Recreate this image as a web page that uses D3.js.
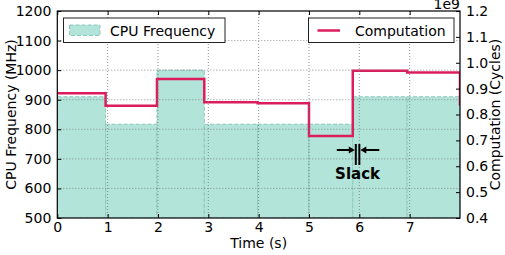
<!DOCTYPE html>
<html>
<head>
<meta charset="utf-8">
<script src="https://cdn.jsdelivr.net/npm/d3@7"></script>
<style>
  body { margin: 0; background: #fff; }
  svg text { font-family: "DejaVu Sans", sans-serif; fill: #000; }
</style>
</head>
<body>
<svg width="505" height="255"></svg>
<script>
const width = 505, height = 255;
const svg = d3.select("svg");

// Intervals (s) with CPU frequency (MHz) and computation (1e9 cycles)
const segStart = [0, 0.96, 1.98, 2.92, 3.98, 5.0, 5.87, 6.95];
const segEnd   = [0.96, 1.98, 2.92, 3.98, 5.0, 5.87, 6.95, 8.0];
const freqMHz  = [910, 817, 1000, 817, 817, 817, 910, 910];
const cycles   = [0.882, 0.834, 0.937, 0.847, 0.843, 0.717, 0.969, 0.962, 0.84];

const xTicks = [0, 1, 2, 3, 4, 5, 6, 7];
const yLeftTicks = [500, 600, 700, 800, 900, 1000, 1100, 1200];
const yRightTicks = [0.4, 0.5, 0.6, 0.7, 0.8, 0.9, 1.0, 1.1, 1.2];
const slack = [5.93, 6.0];

const pLeft = 57.3, pRight = 460, pTop = 11, pBottom = 218;
const x = d3.scaleLinear().domain([0, 8]).range([pLeft, pRight]);
const yL = d3.scaleLinear().domain([500, 1200]).range([pBottom, pTop]);
const yR = d3.scaleLinear().domain([0.4, 1.2]).range([pBottom, pTop]);

const red = "#dc1d5c", teal = "#b3e4d9", tealEdge = "#8cc6ba";

svg.append("clipPath").attr("id", "clip")
  .append("rect").attr("x", pLeft).attr("y", pTop).attr("width", pRight - pLeft).attr("height", pBottom - pTop);

const plot = svg.append("g").attr("clip-path", "url(#clip)");

// frequency bars
const bars = segStart.map((s, i) => ({ s, e: segEnd[i], f: freqMHz[i] }));
plot.selectAll("rect.bar").data(bars).enter().append("rect")
  .attr("class", "bar")
  .attr("x", d => x(d.s)).attr("width", d => x(d.e) - x(d.s))
  .attr("y", d => yL(d.f)).attr("height", d => pBottom - yL(d.f))
  .attr("fill", teal)
  .attr("stroke", tealEdge).attr("stroke-width", 1).attr("stroke-dasharray", "4,2");

// grid (dotted)
const grid = svg.append("g");
grid.selectAll("line.gx").data(xTicks.slice(1)).enter().append("line")
  .attr("x1", d => x(d)).attr("x2", d => x(d)).attr("y1", pTop).attr("y2", pBottom)
  .attr("stroke", "#777").attr("stroke-width", 0.8).attr("stroke-dasharray", "1,2");
grid.selectAll("line.gy").data(yLeftTicks.slice(1, -1)).enter().append("line")
  .attr("y1", d => yL(d)).attr("y2", d => yL(d)).attr("x1", pLeft).attr("x2", pRight)
  .attr("stroke", "#777").attr("stroke-width", 0.8).attr("stroke-dasharray", "1,2");

// computation step line
const stepPts = [];
cycles.forEach((c, i) => {
  const s = i < segStart.length ? segStart[i] : 8;
  const e = i < segEnd.length ? segEnd[i] : 8.3;
  stepPts.push([s, c], [e, c]);
});
plot.append("path")
  .attr("d", d3.line().x(d => x(d[0])).y(d => yR(d[1]))(stepPts))
  .attr("fill", "none").attr("stroke", red).attr("stroke-width", 2.5);

// axes (ticks inward)
const fs = "14px";
const ax = svg.append("g");
ax.append("g").attr("transform", `translate(0,${pBottom})`)
  .call(d3.axisBottom(x).tickValues(xTicks).tickSize(-4).tickPadding(4).tickFormat(d3.format("d")))
  .call(g => g.select(".domain").remove());
ax.append("g").attr("transform", `translate(0,${pTop})`)
  .call(d3.axisTop(x).tickValues(xTicks).tickSize(-4).tickFormat(""))
  .call(g => g.select(".domain").remove());
ax.append("g").attr("transform", `translate(${pLeft},0)`)
  .call(d3.axisLeft(yL).tickValues(yLeftTicks).tickSize(-4).tickPadding(6).tickFormat(d3.format("d")))
  .call(g => g.select(".domain").remove());
ax.append("g").attr("transform", `translate(${pRight},0)`)
  .call(d3.axisRight(yR).tickValues(yRightTicks).tickSize(-4).tickPadding(6).tickFormat(d3.format(".1f")))
  .call(g => g.select(".domain").remove());
ax.selectAll(".tick text").attr("font-size", fs).attr("font-family", "DejaVu Sans");
ax.selectAll(".tick line").attr("stroke", "#000");

svg.append("rect").attr("x", pLeft).attr("y", pTop).attr("width", pRight - pLeft).attr("height", pBottom - pTop)
  .attr("fill", "none").attr("stroke", "#000").attr("stroke-width", 1.2);

// offset text
svg.append("text").attr("x", pRight).attr("y", 9).attr("text-anchor", "end")
  .attr("font-size", fs).text("1e9");

// axis labels
svg.append("text").attr("x", (pLeft + pRight) / 2).attr("y", 248).attr("text-anchor", "middle")
  .attr("font-size", fs).text("Time (s)");
svg.append("text").attr("transform", `translate(16,${(pTop + pBottom) / 2}) rotate(-90)`)
  .attr("text-anchor", "middle").attr("font-size", fs).text("CPU Frequency (MHz)");
svg.append("text").attr("transform", `translate(500,${(pTop + pBottom) / 2}) rotate(-90)`)
  .attr("text-anchor", "middle").attr("font-size", fs).text("Computation (Cycles)");

// legends
const lg1 = svg.append("g");
lg1.append("rect").attr("x", 63.5).attr("y", 18).attr("width", 161.5).attr("height", 24.5)
  .attr("fill", "#fff").attr("stroke", "#222").attr("stroke-width", 1);
lg1.append("rect").attr("x", 69.5).attr("y", 25).attr("width", 30.5).attr("height", 10.5)
  .attr("fill", teal).attr("stroke", tealEdge).attr("stroke-dasharray", "4,2");
lg1.append("text").attr("x", 110).attr("y", 35.5).attr("font-size", fs).text("CPU Frequency");

const lg2 = svg.append("g");
lg2.append("rect").attr("x", 308.5).attr("y", 18).attr("width", 145.5).attr("height", 24.5)
  .attr("fill", "#fff").attr("stroke", "#222").attr("stroke-width", 1);
lg2.append("line").attr("x1", 317.5).attr("x2", 340).attr("y1", 30.5).attr("y2", 30.5)
  .attr("stroke", red).attr("stroke-width", 2.5);
lg2.append("text").attr("x", 355).attr("y", 35.5).attr("font-size", fs).text("Computation");

// slack annotation
const sa = svg.append("g").attr("stroke", "#000").attr("stroke-width", 2);
const sy = 150, sx0 = x(slack[0]), sx1 = x(slack[1]);
sa.append("line").attr("x1", sx0).attr("x2", sx0).attr("y1", 144).attr("y2", 165);
sa.append("line").attr("x1", sx1).attr("x2", sx1).attr("y1", 144).attr("y2", 165);
sa.append("line").attr("x1", sx0 - 19).attr("x2", sx0 - 5).attr("y1", sy).attr("y2", sy);
sa.append("line").attr("x1", sx1 + 5).attr("x2", sx1 + 20).attr("y1", sy).attr("y2", sy);
svg.append("path").attr("d", `M${sx0 - 1},${sy} L${sx0 - 7},${sy - 3.5} L${sx0 - 7},${sy + 3.5} Z`).attr("fill", "#000");
svg.append("path").attr("d", `M${sx1 + 1},${sy} L${sx1 + 7},${sy - 3.5} L${sx1 + 7},${sy + 3.5} Z`).attr("fill", "#000");
svg.append("text").attr("x", (sx0 + sx1) / 2).attr("y", 178.5).attr("text-anchor", "middle")
  .attr("font-size", "15px").attr("font-weight", "bold").text("Slack");
</script>
</body>
</html>
